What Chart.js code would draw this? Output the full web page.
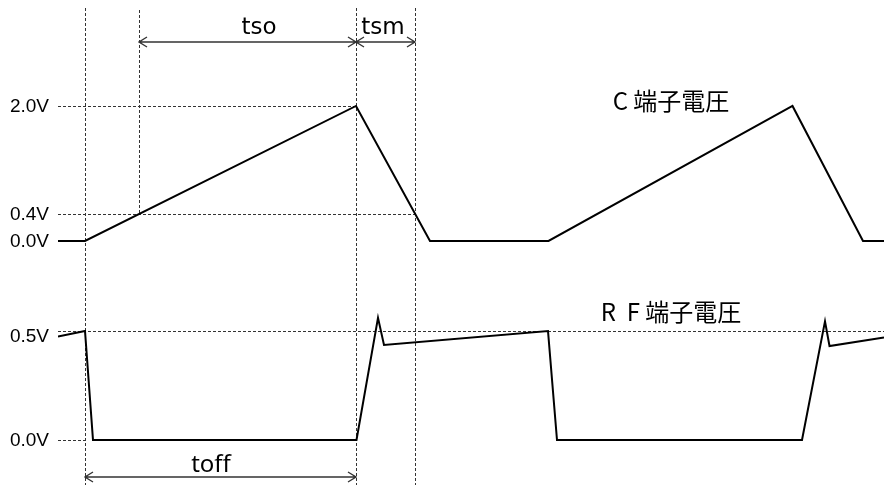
<!DOCTYPE html>
<html>
<head>
  <title>C / RF 端子電圧</title>
  <script src="https://cdn.jsdelivr.net/npm/chart.js"></script>
  <style>
    body { margin: 0; background: #fff; }
    canvas { display: block; }
  </style>
</head>
<body>
  <canvas id="waveChart" width="884" height="485"></canvas>

  <script>
    // time axis in arbitrary units (t = 0 at start of toff)
    const timeC = [-2.7, 0, 27.1, 34.5, 46.35, 70.75, 77.8, 79.9];
    const voltC = [0, 0, 2.0, 0, 0, 2.0, 0, 0];

    const timeRF = [-2.7, 0, 0.8, 27.15, 29.3, 29.9, 46.3, 47.2, 71.7, 74.0, 74.45, 79.9];
    const voltRF = [0.475, 0.5, 0, 0, 0.56, 0.436, 0.5, 0, 0, 0.544, 0.431, 0.47];

    const levelsC = [2.0, 0.4, 0.0];
    const levelsRF = [0.5, 0.0];

    // timing marks
    const tOffStart = 0;
    const tThreshold = 5.4;
    const tPeak = 27.1;
    const tSmEnd = 33.0;

    const toPoints = (ts, vs) => ts.map((t, i) => ({ x: t, y: vs[i] }));
    const crisp = v => Math.round(v) + 0.5;

    function dashedLine(ctx, x1, y1, x2, y2) {
      ctx.save();
      ctx.strokeStyle = '#333';
      ctx.lineWidth = 1;
      ctx.setLineDash([3, 2]);
      ctx.beginPath();
      if (x1 === x2) {
        ctx.moveTo(crisp(x1), y1);
        ctx.lineTo(crisp(x2), y2);
      } else {
        ctx.moveTo(x1, crisp(y1));
        ctx.lineTo(x2, crisp(y2));
      }
      ctx.stroke();
      ctx.restore();
    }

    function arrow(ctx, x1, x2, y) {
      ctx.save();
      ctx.strokeStyle = '#333';
      ctx.lineWidth = 1.4;
      ctx.beginPath();
      ctx.moveTo(x1, y); ctx.lineTo(x2, y);
      ctx.moveTo(x1 + 8, y - 5); ctx.lineTo(x1, y); ctx.lineTo(x1 + 8, y + 5);
      ctx.moveTo(x2 - 8, y - 5); ctx.lineTo(x2, y); ctx.lineTo(x2 - 8, y + 5);
      ctx.stroke();
      ctx.restore();
    }

    const guides = {
      id: 'guides',
      beforeDatasetsDraw(chart) {
        const { ctx, chartArea } = chart;
        const x = chart.scales.x, yc = chart.scales.yc, yr = chart.scales.yr;
        const left = chartArea.left, right = chartArea.right, bottom = chartArea.bottom;

        // horizontal level guides
        dashedLine(ctx, left, yc.getPixelForValue(2.0), x.getPixelForValue(tPeak), yc.getPixelForValue(2.0));
        dashedLine(ctx, left, yc.getPixelForValue(0.4), x.getPixelForValue(tSmEnd), yc.getPixelForValue(0.4));
        dashedLine(ctx, left, yr.getPixelForValue(0.5), right, yr.getPixelForValue(0.5));
        dashedLine(ctx, left, yr.getPixelForValue(0), x.getPixelForValue(tOffStart), yr.getPixelForValue(0));

        // vertical timing guides
        dashedLine(ctx, x.getPixelForValue(tOffStart), 8, x.getPixelForValue(tOffStart), bottom);
        dashedLine(ctx, x.getPixelForValue(tThreshold), 10, x.getPixelForValue(tThreshold), yc.getPixelForValue(0.4));
        dashedLine(ctx, x.getPixelForValue(tPeak), 8, x.getPixelForValue(tPeak), bottom);
        dashedLine(ctx, x.getPixelForValue(tSmEnd), 8, x.getPixelForValue(tSmEnd), bottom);
      },
      afterDraw(chart) {
        const { ctx, chartArea } = chart;
        const x = chart.scales.x, yc = chart.scales.yc, yr = chart.scales.yr;

        // level labels
        ctx.save();
        ctx.fillStyle = '#000';
        ctx.font = '19px "Liberation Sans", Arial, sans-serif';
        ctx.textAlign = 'right';
        ctx.textBaseline = 'middle';
        const lx = chartArea.left - 9;
        levelsC.forEach(v => ctx.fillText(v.toFixed(1) + 'V', lx, yc.getPixelForValue(v) + 1));
        levelsRF.forEach(v => ctx.fillText(v.toFixed(1) + 'V', lx, yr.getPixelForValue(v) + (v > 0 ? 6 : 1)));

        // timing arrows
        const xa = x.getPixelForValue(tOffStart), xb = x.getPixelForValue(tThreshold);
        const xc = x.getPixelForValue(tPeak), xd = x.getPixelForValue(tSmEnd);
        arrow(ctx, xb, xc, 42);
        arrow(ctx, xc, xd, 42);
        arrow(ctx, xa, xc, 477);

        ctx.textAlign = 'center';
        ctx.font = '23px "DejaVu Sans", sans-serif';
        ctx.fillText('tso', 259, 28);
        ctx.fillText('tsm', 383, 28);
        ctx.font = '24px "Noto Sans", sans-serif';
        ctx.fillText('toff', 211, 465);

        // trace names
        ctx.font = '24px "Noto Sans CJK JP", sans-serif';
        ctx.fillText('C 端子電圧', 671, 101);
        ctx.fillText('R  F 端子電圧', 671, 312);
        ctx.restore();
      }
    };

    new Chart(document.getElementById('waveChart'), {
      type: 'scatter',
      data: {
        datasets: [
          {
            label: 'C 端子電圧',
            data: toPoints(timeC, voltC),
            yAxisID: 'yc',
            showLine: true,
            borderColor: '#000',
            borderWidth: 2,
            pointRadius: 0,
            tension: 0
          },
          {
            label: 'RF 端子電圧',
            data: toPoints(timeRF, voltRF),
            yAxisID: 'yr',
            showLine: true,
            borderColor: '#000',
            borderWidth: 2,
            pointRadius: 0,
            tension: 0
          }
        ]
      },
      options: {
        responsive: false,
        animation: false,
        layout: { padding: { left: 58, right: 0, top: 0, bottom: 0 } },
        plugins: {
          legend: { display: false },
          tooltip: { enabled: false }
        },
        scales: {
          x: { type: 'linear', min: -2.7, max: 79.9, display: false },
          yc: { type: 'linear', min: -3.615, max: 3.570, display: false },
          yr: { type: 'linear', min: -0.2064, max: 2.018, display: false }
        }
      },
      plugins: [guides]
    });
  </script>
</body>
</html>
